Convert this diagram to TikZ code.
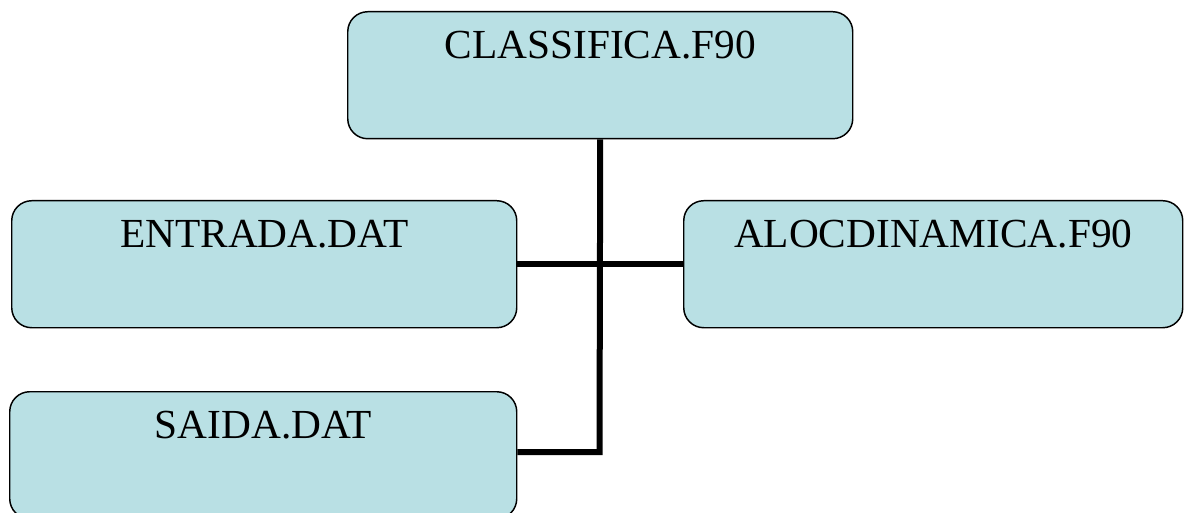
\documentclass[tikz,border=0pt]{standalone}
\usepackage{fontspec}
\setmainfont{Liberation Serif}
\definecolor{boxfill}{RGB}{185,224,228}
\begin{document}
\begin{tikzpicture}[x=0.75pt,y=-0.75pt,
  filebox/.style={draw=black, line width=1.1pt, fill=boxfill, rounded corners=15pt,
    anchor=north west, minimum width=#1, inner xsep=0pt, inner ysep=0pt,
    text height=35.25pt, text depth=60pt, font=\fontsize{31}{31}\selectfont},
  filebox/.default=378.75pt,
  link/.style={line width=4.5pt, line join=miter}]
\useasboundingbox (0,0) rectangle (1184,513);
\node[filebox] (cls) at (347,11) {CLASSIFICA.F90};
\node[filebox] (ent) at (11,200) {ENTRADA.DAT};
\node[filebox=374.25pt] (aloc) at (683,200) {ALOCDINAMICA.F90};
\node[filebox=380.25pt] (sai) at (9,391) {SAIDA.DAT};
\coordinate (j) at (599.5,452);
\draw[link] (cls.south) -- (j) -- (j -| sai.east);
\draw[link] (ent.east) -- (aloc.west);
\end{tikzpicture}
\end{document}
